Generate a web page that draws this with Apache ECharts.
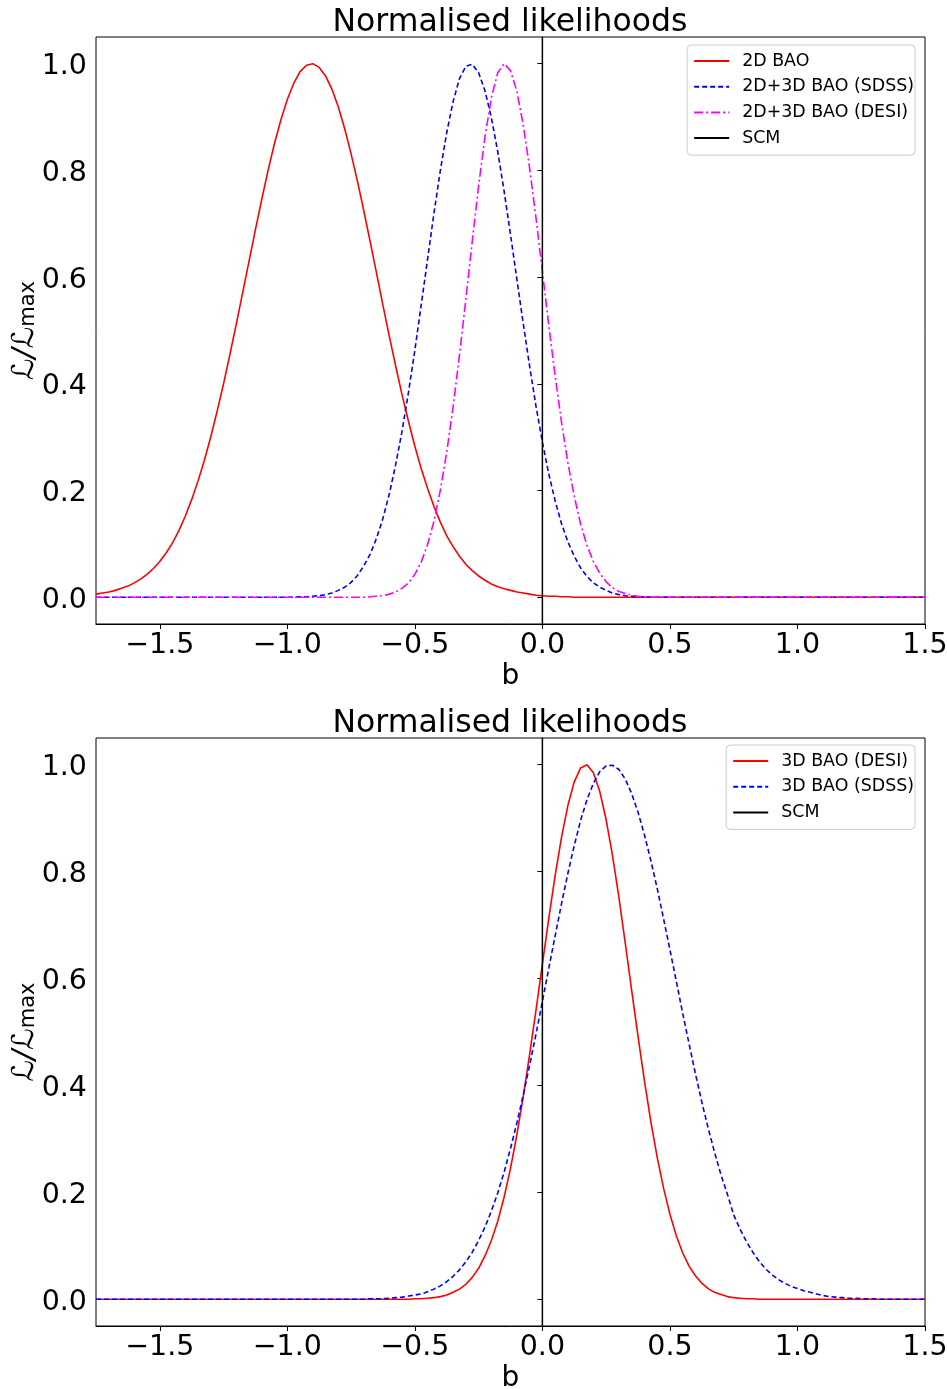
<!DOCTYPE html>
<html>
<head>
<meta charset="utf-8">
<script src="https://cdn.jsdelivr.net/npm/echarts@6/dist/echarts.min.js"></script>
<style>html,body{margin:0;padding:0;background:#fff;}#c{width:947px;height:1389px;}</style>
</head>
<body>
<div id="c"></div>
<script>
// shared b grid (x values), step 0.025
const xs = [
-1.75,-1.725,-1.7,-1.675,-1.65,-1.625,-1.6,-1.575,-1.55,-1.525,
-1.5,-1.475,-1.45,-1.425,-1.4,-1.375,-1.35,-1.325,-1.3,-1.275,
-1.25,-1.225,-1.2,-1.175,-1.15,-1.125,-1.1,-1.075,-1.05,-1.025,
-1,-0.975,-0.95,-0.925,-0.9,-0.875,-0.85,-0.825,-0.8,-0.775,
-0.75,-0.725,-0.7,-0.675,-0.65,-0.625,-0.6,-0.575,-0.55,-0.525,
-0.5,-0.475,-0.45,-0.425,-0.4,-0.375,-0.35,-0.325,-0.3,-0.275,
-0.25,-0.225,-0.2,-0.175,-0.15,-0.125,-0.1,-0.075,-0.05,-0.025,
0,0.025,0.05,0.075,0.1,0.125,0.15,0.175,0.2,0.225,
0.25,0.275,0.3,0.325,0.35,0.375,0.4,0.425,0.45,0.475,
0.5,0.525,0.55,0.575,0.6,0.625,0.65,0.675,0.7,0.725,
0.75,0.775,0.8,0.825,0.85,0.875,0.9,0.925,0.95,0.975,
1,1.025,1.05,1.075,1.1,1.125,1.15,1.175,1.2,1.225,
1.25,1.275,1.3,1.325,1.35,1.375,1.4,1.425,1.45,1.475,
1.5];

// top panel
const bao2D = [
.006,.008,.010,.013,.017,.021,.027,.034,.043,.054,
.067,.083,.102,.125,.152,.183,.218,.257,.301,.349,
.400,.455,.512,.571,.630,.689,.746,.801,.851,.895,
.933,.963,.985,.997,1.000,.993,.977,.952,.919,.878,
.831,.780,.724,.666,.607,.547,.489,.433,.379,.330,
.283,.241,.204,.170,.141,.115,.095,.077,.062,.050,
.040,.032,.025,.020,.016,.013,.010,.008,.006,.004,
.003,.002,.002,.001,.001,0,0,0,0,0,
0,0,0,0,0,0,0,0,0,0,
0,0,0,0,0,0,0,0,0,0,
0,0,0,0,0,0,0,0,0,0,
0,0,0,0,0,0,0,0,0,0,
0,0,0,0,0,0,0,0,0,0,
0];
const bao23SDSS = [
0,0,0,0,0,0,0,0,0,0,
0,0,0,0,0,0,0,0,0,0,
0,0,0,0,0,0,0,0,0,0,
0,0,.001,.001,.002,.003,.005,.008,.013,.019,
.028,.041,.059,.081,.111,.148,.194,.249,.312,.384,
.463,.548,.634,.720,.800,.871,.929,.972,.995,.999,
.983,.949,.899,.835,.761,.680,.596,.513,.433,.358,
.291,.231,.181,.138,.104,.077,.055,.039,.027,.019,
.013,.008,.005,.003,.002,.001,.001,0,0,0,
0,0,0,0,0,0,0,0,0,0,
0,0,0,0,0,0,0,0,0,0,
0,0,0,0,0,0,0,0,0,0,
0,0,0,0,0,0,0,0,0,0,
0];
const bao23DESI = [
0,0,0,0,0,0,0,0,0,0,
0,0,0,0,0,0,0,0,0,0,
0,0,0,0,0,0,0,0,0,0,
0,0,0,0,0,0,0,0,0,0,
0,0,0,.001,.002,.003,.006,.010,.017,.027,
.043,.066,.099,.143,.201,.272,.357,.454,.559,.667,
.771,.863,.936,.983,1.000,.987,.948,.885,.804,.711,
.611,.510,.415,.328,.252,.189,.137,.097,.067,.045,
.029,.018,.011,.007,.004,.002,.001,0,0,0,
0,0,0,0,0,0,0,0,0,0,
0,0,0,0,0,0,0,0,0,0,
0,0,0,0,0,0,0,0,0,0,
0,0,0,0,0,0,0,0,0,0,
0];

// bottom panel
const bao3DDESI = [
0,0,0,0,0,0,0,0,0,0,
0,0,0,0,0,0,0,0,0,0,
0,0,0,0,0,0,0,0,0,0,
0,0,0,0,0,0,0,0,0,0,
0,0,0,0,0,0,0,0,0,0,
.001,.001,.002,.003,.005,.008,.013,.019,.028,.041,
.058,.081,.110,.146,.191,.245,.308,.379,.458,.541,
.627,.712,.793,.864,.924,.968,.994,1.000,.985,.950,
.897,.830,.752,.666,.578,.492,.409,.333,.266,.208,
.159,.119,.087,.062,.044,.030,.020,.013,.009,.005,
.003,.002,.001,.001,0,0,0,0,0,0,
0,0,0,0,0,0,0,0,0,0,
0,0,0,0,0,0,0,0,0,0,
0];
const bao3DSDSS = [
0,0,0,0,0,0,0,0,0,0,
0,0,0,0,0,0,0,0,0,0,
0,0,0,0,0,0,0,0,0,0,
0,0,0,0,0,0,0,0,0,0,
0,0,0,.001,.001,.001,.002,.003,.004,.006,
.008,.010,.014,.019,.025,.033,.043,.055,.070,.088,
.110,.135,.165,.199,.238,.282,.330,.382,.438,.496,
.557,.619,.680,.740,.797,.849,.896,.935,.965,.987,
.998,.999,.991,.973,.946,.911,.869,.821,.769,.712,
.654,.595,.535,.478,.422,.369,.320,.275,.233,.197,
.158,.131,.108,.088,.071,.057,.046,.037,.030,.024,
.020,.016,.013,.010,.007,.005,.004,.003,.002,.002,
.001,.001,.001,0,0,0,0,0,0,0,
0];

// SCM reference line and axis ticks
const scmB = 0;
const xTicks = [-1.5,-1.0,-0.5,0.0,0.5,1.0,1.5];
const yTicks = [0.0,0.2,0.4,0.6,0.8,1.0];
const titleText = 'Normalised likelihoods';

const FONT = 'DejaVu Sans';
const pair = arr => xs.map((x, i) => [x, arr[i]]);
const fmtX = v => (v < 0 ? '\u2212' + Math.abs(v).toFixed(1) : v.toFixed(1));

function xAxisFor(gi) {
  return {
    gridIndex: gi, type: 'value', min: -1.75, max: 1.5,
    name: 'b', nameLocation: 'middle', nameGap: 39, nameMoveOverlap: false,
    nameTextStyle: {fontFamily: FONT, fontSize: 28, color: '#000'},
    axisLine: {show: true, onZero: false, lineStyle: {color: '#000', width: 1}},
    axisTick: {show: true, length: 5, customValues: xTicks, lineStyle: {color: '#000'}},
    axisLabel: {customValues: xTicks, formatter: fmtX, fontFamily: FONT, fontSize: 28.5, color: '#000', margin: 7},
    splitLine: {show: false}
  };
}
function yAxisFor(gi) {
  return {
    gridIndex: gi, type: 'value', min: -0.05, max: 1.05,
    name: '{a|\u2112/\u2112}{b|max}', nameLocation: 'middle', nameGap: 56, nameMoveOverlap: false,
    nameTextStyle: {
      rich: {
        a: {fontFamily: FONT, fontSize: 30, fontStyle: 'italic', color: '#000'},
        b: {fontFamily: FONT, fontSize: 21, color: '#000', padding: [8, 0, 0, 0]}
      }
    },
    axisLine: {show: true, lineStyle: {color: '#000', width: 1}},
    axisTick: {show: true, length: 5, customValues: yTicks, lineStyle: {color: '#000'}},
    axisLabel: {
      customValues: yTicks, formatter: v => '{n|' + v.toFixed(1) + '}', margin: 9,
      rich: {n: {fontFamily: FONT, fontSize: 28.5, color: '#000', padding: [6, 0, 0, 0]}}
    },
    splitLine: {show: false}
  };
}
function lineSeries(name, gi, arr, color, type) {
  return {
    name, type: 'line', xAxisIndex: gi, yAxisIndex: gi, data: pair(arr),
    showSymbol: false, symbol: 'none', smooth: false, animation: false,
    lineStyle: {color, width: 1.6, type}, itemStyle: {color}, z: 3
  };
}
function scmSeries(gi) {
  return {
    name: 'SCM', type: 'line', xAxisIndex: gi, yAxisIndex: gi,
    data: [[scmB, -0.05], [scmB, 1.05]], showSymbol: false, symbol: 'none', animation: false,
    lineStyle: {color: '#000', width: 1.5}, itemStyle: {color: '#000'}, z: 4
  };
}
const legendCommon = {
  orient: 'vertical', right: 32, itemWidth: 35, itemHeight: 14, itemGap: 7.7,
  padding: [7, 1, 8, 6], borderColor: '#cccccc', borderWidth: 1, borderRadius: 4,
  backgroundColor: 'rgba(255,255,255,0.85)',
  itemStyle: {color: 'rgba(0,0,0,0)', borderColor: 'rgba(0,0,0,0)', borderWidth: 0},
  textStyle: {fontFamily: FONT, fontSize: 17.4, color: '#000', lineHeight: 18, padding: [0, 0, 0, 8]},
  selectedMode: false
};

const chart = echarts.init(document.getElementById('c'), null, {renderer: 'canvas'});
chart.setOption({
  animation: false,
  backgroundColor: '#fff',
  title: [
    {text: titleText, left: 505, top: 2, textAlign: 'center', textStyle: {fontFamily: FONT, fontSize: 31.5, fontWeight: 'normal', color: '#000'}},
    {text: titleText, left: 505, top: 703, textAlign: 'center', textStyle: {fontFamily: FONT, fontSize: 31.5, fontWeight: 'normal', color: '#000'}}
  ],
  grid: [
    {left: 96, width: 829, top: 37, height: 587, show: true, borderColor: '#000', borderWidth: 1, containLabel: false, outerBoundsMode: 'none'},
    {left: 96, width: 829, top: 738, height: 588, show: true, borderColor: '#000', borderWidth: 1, containLabel: false, outerBoundsMode: 'none'}
  ],
  xAxis: [xAxisFor(0), xAxisFor(1)],
  yAxis: [yAxisFor(0), yAxisFor(1)],
  legend: [
    Object.assign({}, legendCommon, {top: 45, data: ['2D BAO', '2D+3D BAO (SDSS)', '2D+3D BAO (DESI)', 'SCM']}),
    Object.assign({}, legendCommon, {top: 745, data: ['3D BAO (DESI)', '3D BAO (SDSS)', 'SCM']})
  ],
  series: [
    lineSeries('2D BAO', 0, bao2D, '#ff0000', 'solid'),
    lineSeries('2D+3D BAO (SDSS)', 0, bao23SDSS, '#0000ff', [5, 3]),
    lineSeries('2D+3D BAO (DESI)', 0, bao23DESI, '#ff00ff', [9, 3, 2, 3]),
    scmSeries(0),
    lineSeries('3D BAO (DESI)', 1, bao3DDESI, '#ff0000', 'solid'),
    lineSeries('3D BAO (SDSS)', 1, bao3DSDSS, '#0000ff', [5, 3]),
    scmSeries(1)
  ]
});
</script>
</body>
</html>
